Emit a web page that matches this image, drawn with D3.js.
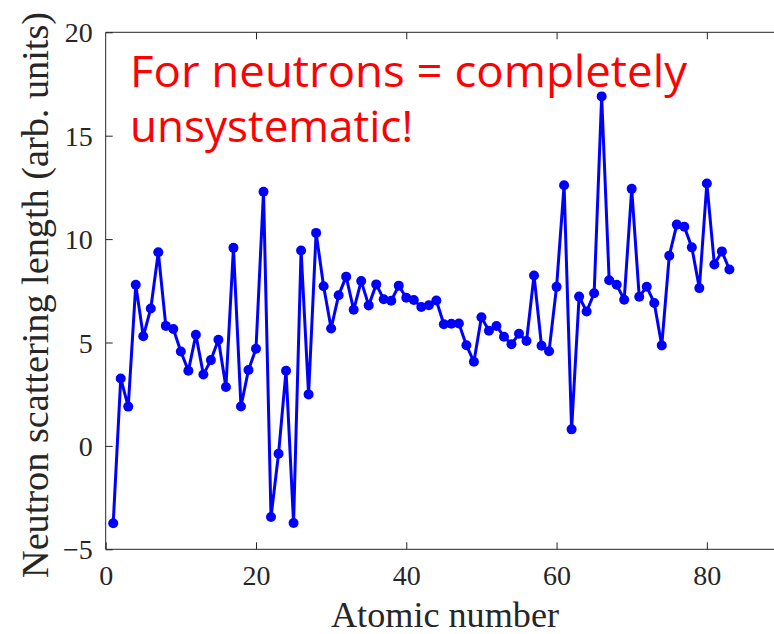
<!DOCTYPE html>
<html><head><meta charset="utf-8">
<script src="https://cdn.jsdelivr.net/npm/d3@7"></script>
<style>html,body{margin:0;padding:0;background:#fff;overflow:hidden}</style>
</head><body>
<svg id="c" width="774" height="634"></svg>
<script>
const atomicNumbers = d3.range(1, 84);
const scatteringLengths = [
 -3.739, 3.26, 1.90, 7.79, 5.30, 6.646, 9.36, 5.803, 5.654, 4.566,
 3.63, 5.375, 3.449, 4.149, 5.13, 2.847, 9.577, 1.909, 3.67, 4.70,
 12.29, -3.438, -0.382, 3.635, -3.73, 9.45, 2.49, 10.3, 7.718, 5.68,
 7.288, 8.185, 6.58, 7.97, 6.795, 7.81, 7.09, 7.02, 7.75, 7.16,
 7.054, 6.715, 6.8, 7.03, 5.88, 5.91, 5.922, 4.87, 4.065, 6.225,
 5.57, 5.80, 5.28, 4.92, 5.42, 5.07, 8.24, 4.84, 4.58, 7.69,
 12.6, 0.80, 7.22, 6.5, 7.38, 16.9, 8.01, 7.79, 7.07, 12.43,
 7.21, 7.7, 6.91, 4.86, 9.2, 10.7, 10.6, 9.60, 7.63, 12.692,
 8.776, 9.405, 8.532
];
const xTicks = [0, 20, 40, 60, 80];
const yTicks = [-5, 0, 5, 10, 15, 20];
const xDomain = [0, 90];
const yDomain = [-5, 20];
const annotationLines = ["For neutrons = completely", "unsystematic!"];
const xLabel = "Atomic number";
const yLabel = "Neutron scattering length (arb. units)";

const svg = d3.select("#c");
const L = 105.7, R = 782, T = 32.3, B = 549.3;
const x = d3.scaleLinear().domain(xDomain).range([L, R]);
const y = d3.scaleLinear().domain(yDomain).range([B, T]);
const axisColor = "#262626";
const serif = "'Liberation Serif','DejaVu Serif',serif";

svg.append("line").attr("x1", L).attr("x2", R).attr("y1", B).attr("y2", B).attr("stroke", axisColor).attr("stroke-width", 1);
svg.append("line").attr("x1", L).attr("x2", R).attr("y1", T).attr("y2", T).attr("stroke", axisColor).attr("stroke-width", 1);
svg.append("line").attr("x1", L).attr("x2", L).attr("y1", T).attr("y2", B).attr("stroke", axisColor).attr("stroke-width", 1);

const gx = svg.append("g").attr("transform", `translate(0,${B})`)
  .call(d3.axisBottom(x).tickValues(xTicks).tickSizeInner(-7).tickSizeOuter(0));
const gxTop = svg.append("g").attr("transform", `translate(0,${T})`)
  .call(d3.axisTop(x).tickValues(xTicks.filter(v => v > 0)).tickSizeInner(-7).tickSizeOuter(0).tickFormat(""));
const gy = svg.append("g").attr("transform", `translate(${L},0)`)
  .call(d3.axisLeft(y).tickValues(yTicks).tickSizeInner(-7).tickSizeOuter(0).tickPadding(13));
[gx, gxTop, gy].forEach(g => {
  g.attr("font-family", null).attr("font-size", null);
  g.select(".domain").remove();
  g.selectAll(".tick line").attr("stroke", axisColor);
  g.selectAll("text").attr("fill", axisColor).style("font-family", serif).style("font-size", "28px");
});
gx.selectAll(".tick text").attr("dy", "0").attr("y", 36);
gy.selectAll(".tick text").attr("dy", "0.34em");

const line = d3.line().x((d, i) => x(atomicNumbers[i])).y(d => y(d));
svg.append("path").datum(scatteringLengths).attr("d", line)
  .attr("fill", "none").attr("stroke", "#0000ff").attr("stroke-width", 3).attr("stroke-linejoin", "round");
svg.append("g").selectAll("circle").data(scatteringLengths).join("circle")
  .attr("cx", (d, i) => x(atomicNumbers[i])).attr("cy", d => y(d)).attr("r", 5).attr("fill", "#0000ff");

svg.append("text").attr("x", 445).attr("y", 627).attr("text-anchor", "middle")
  .attr("textLength", 228).attr("lengthAdjust", "spacingAndGlyphs")
  .style("font-family", serif).style("font-size", "36px").attr("fill", axisColor).text(xLabel);
svg.append("text").attr("transform", `translate(48,295) rotate(-90)`).attr("text-anchor", "middle")
  .attr("textLength", 566).attr("lengthAdjust", "spacingAndGlyphs")
  .style("font-family", serif).style("font-size", "37px").attr("fill", axisColor).text(yLabel);

const ann = svg.append("text").style("font-family", "'Open Sans','Noto Sans',sans-serif").style("font-size", "44px").attr("fill", "#ff0000");
ann.append("tspan").attr("x", 130).attr("y", 86.5).attr("textLength", 557).attr("lengthAdjust", "spacingAndGlyphs").text(annotationLines[0]);
ann.append("tspan").attr("x", 130).attr("y", 141.5).attr("textLength", 283).attr("lengthAdjust", "spacingAndGlyphs").text(annotationLines[1]);
</script>
</body></html>
